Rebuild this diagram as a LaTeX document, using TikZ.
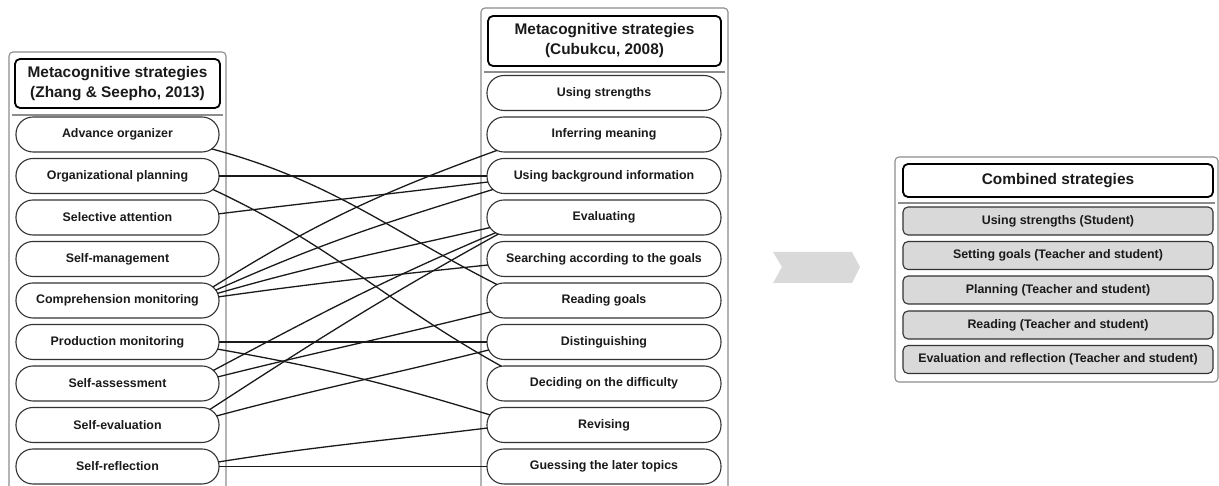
\documentclass[tikz,border=0pt]{standalone}
\usepackage{fontspec}
\setmainfont{Liberation Sans}
\usetikzlibrary{calc}
\definecolor{linec}{HTML}{1A1A1A}
\definecolor{pillc}{HTML}{333333}
\definecolor{framec}{HTML}{8C8C8C}
\definecolor{itemfill}{HTML}{D9D9D9}
\definecolor{chevc}{HTML}{D9D9D9}
\begin{document}
\begin{tikzpicture}[x=1pt,y=1pt,
  frame/.style={draw=framec, line width=1.1pt, rounded corners=4pt},
  sepline/.style={draw=framec, line width=1.1pt},
  headbox/.style={draw=black, line width=1.8pt, rounded corners=5pt, fill=white, inner sep=0pt, outer sep=0pt, align=center, font=\bfseries\fontsize{15.4}{20}\selectfont, text=linec},
  pill/.style={draw=pillc, line width=1.1pt, rounded corners=17pt, fill=white, minimum height=35pt, inner sep=0pt, outer sep=0pt, font=\bfseries\fontsize{12.4}{14}\selectfont, text=linec},
  lpill/.style={pill, minimum width=203pt},
  mpill/.style={pill, minimum width=234pt},
  item/.style={draw=pillc, line width=1.1pt, rounded corners=5pt, fill=itemfill, minimum width=310pt, minimum height=28pt, inner sep=0pt, outer sep=0pt, font=\bfseries\fontsize{12.4}{14}\selectfont, text=linec},
  conn/.style={draw=linec, line width=1.3pt}
]
\useasboundingbox (0,0) rectangle (1219,486);
\clip (0,0) rectangle (1219,486);

% containers
\draw[frame] (9,-20) rectangle (226,434);
\draw[frame] (481,-20) rectangle (728,478);
\draw[frame] (895,104) rectangle (1218,329);
\draw[sepline] (12,371) -- (223,371);
\draw[sepline] (484,414) -- (725,414);
\draw[sepline] (898,283) -- (1215,283);

% headers
\node[headbox, minimum width=205pt, minimum height=49pt] (lh) at (117.5,402.5) {Metacognitive strategies\\(Zhang \& Seepho, 2013)};
\node[headbox, minimum width=233pt, minimum height=50pt] (mh) at (604.5,445) {Metacognitive strategies\\(Cubukcu, 2008)};
\node[headbox, minimum width=310pt, minimum height=33pt] (rh) at (1058,305.5) {Combined strategies};

% left column
\node[lpill] (ao)  at (117.5,351.5) {Advance organizer};
\node[lpill] (op)  at (117.5,310)   {Organizational planning};
\node[lpill] (sa)  at (117.5,268.5) {Selective attention};
\node[lpill] (sm)  at (117.5,227)   {Self-management};
\node[lpill] (cm)  at (117.5,185.5) {Comprehension monitoring};
\node[lpill] (pm)  at (117.5,144)   {Production monitoring};
\node[lpill] (sas) at (117.5,102.5) {Self-assessment};
\node[lpill] (se)  at (117.5,61)    {Self-evaluation};
\node[lpill] (sr)  at (117.5,19.5)  {Self-reflection};

% middle column
\node[mpill] (us)  at (604,393)   {Using strengths};
\node[mpill] (im)  at (604,351.5) {Inferring meaning};
\node[mpill] (ubg) at (604,310)   {Using background information};
\node[mpill] (ev)  at (604,268.5) {Evaluating};
\node[mpill] (sg)  at (604,227)   {Searching according to the goals};
\node[mpill] (rg)  at (604,185.5) {Reading goals};
\node[mpill] (di)  at (604,144)   {Distinguishing};
\node[mpill] (dd)  at (604,102.5) {Deciding on the difficulty};
\node[mpill] (rv)  at (604,61)    {Revising};
\node[mpill] (gl)  at (604,19.5)  {Guessing the later topics};

% right column
\node[item] (c1) at (1058,265)   {Using strengths (Student)};
\node[item] (c2) at (1058,230.5) {Setting goals (Teacher and student)};
\node[item] (c3) at (1058,196)   {Planning (Teacher and student)};
\node[item] (c4) at (1058,161)   {Reading (Teacher and student)};
\node[item] (c5) at (1058,126.5) {Evaluation and reflection (Teacher and student)};

% chevron arrow
\fill[chevc] (773,234) -- (852,234) -- (860,219) -- (852,203) -- (773,203) -- (782,219) -- cycle;

% connectors
\foreach \s/\sa/\t/\ta/\o/\i in {
  ao/-55/rg/115/-15/153,
  op/0/ubg/180/0/180,
  op/-50/dd/100/-25/151,
  sa/12/ubg/200/7/187,
  cm/50/im/245/32/200,
  cm/36/ubg/230/24/197,
  cm/24/ev/215/16/193,
  cm/12/sg/200/8/186,
  pm/0/di/180/0/180,
  pm/-24/rv/145/-10/163,
  sas/48/ev/240/28/203,
  sas/22/rg/220/14/194,
  se/62/ev/250/33/209,
  se/31/di/207/15/194,
  sr/15/rv/190/9/187,
  sr/0/gl/180/0/180}
  \draw[conn] ($(\s.east)+(-17.5,0)+(\sa:17.5)$) to[out=\o,in=\i] ($(\t.west)+(17.5,0)+(\ta:17.5)$);
\end{tikzpicture}
\end{document}
